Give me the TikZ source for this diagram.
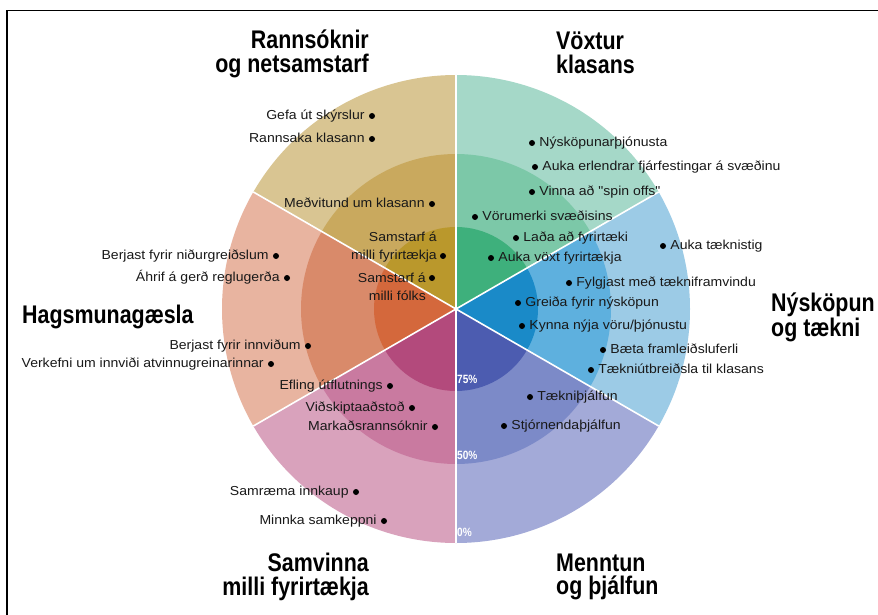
\documentclass[tikz,border=0pt]{standalone}
\usepackage{fontspec}
\newfontfamily\lblfamily{Liberation Sans}[FakeStretch=1.08]
\newfontfamily\ttlfamily{Liberation Sans}[FakeStretch=0.84]
\usetikzlibrary{positioning}
\definecolor{vA}{HTML}{A5D8C8}\definecolor{vB}{HTML}{7CC8A8}\definecolor{vC}{HTML}{3EB07C}
\definecolor{rA}{HTML}{D9C592}\definecolor{rB}{HTML}{C9A95E}\definecolor{rC}{HTML}{BA982C}
\definecolor{hA}{HTML}{E8B4A0}\definecolor{hB}{HTML}{D98A6A}\definecolor{hC}{HTML}{D4683C}
\definecolor{sA}{HTML}{D9A2BC}\definecolor{sB}{HTML}{C97AA0}\definecolor{sC}{HTML}{B34A7C}
\definecolor{mA}{HTML}{A3AAD8}\definecolor{mB}{HTML}{7C8AC8}\definecolor{mC}{HTML}{4C5CB0}
\definecolor{nA}{HTML}{9CCBE6}\definecolor{nB}{HTML}{5EB0DE}\definecolor{nC}{HTML}{1A8AC8}
\newcommand\SectorFill[5]{%
  \fill[#3] (C) -- ++(#1:234pt) arc[start angle=#1,end angle=#2,radius=234pt] -- cycle;
  \fill[#4] (C) -- ++(#1:155pt) arc[start angle=#1,end angle=#2,radius=155pt] -- cycle;
  \fill[#5] (C) -- ++(#1:82pt) arc[start angle=#1,end angle=#2,radius=82pt] -- cycle;}
\newcommand\LeftItem[4]{%
  \node[dotn] (#1d) at (#2,#3) {};
  \node[lbl, anchor=east] (#1) at ([xshift=-4pt]#1d.west) {#4};}
\newcommand\RightItem[4]{%
  \node[dotn] (#1d) at (#2,#3) {};
  \node[lbl, anchor=west] (#1) at ([xshift=4pt]#1d.east) {#4};}
\begin{document}
\begin{tikzpicture}[x=1pt,y=-1pt,
  dotn/.style={circle, fill=black, inner sep=0pt, minimum size=6pt},
  lbl/.style={font=\lblfamily\fontsize{13}{18.5}\selectfont, text=black!90, inner sep=0pt, text height=9pt, text depth=2.5pt},
  lbl2/.style={font=\lblfamily\fontsize{13}{18.5}\selectfont, text=black!90, inner sep=0pt, align=right},
  ttl/.style={font=\ttlfamily\bfseries\fontsize{25.5}{23.5}\selectfont, text=black, inner sep=0pt},
  pct/.style={font=\ttlfamily\bfseries\fontsize{12}{14}\selectfont, text=white, inner sep=0pt, anchor=west},
  divider/.style={white, line width=1.6pt},
  frame/.style={black, line width=1.8pt}]
\fill[white] (0,0) rectangle (878,615);
\useasboundingbox (0,0) rectangle (878,615);
% frame
\coordinate (F1) at (878,10.5);
\coordinate (F2) at (7,10.5);
\coordinate (F3) at (7,615);
\draw[frame] (F1) -- (F2) -- (F3);
% wheel
\coordinate (C) at (456,309);
\SectorFill{30}{90}{vA}{vB}{vC}
\SectorFill{90}{150}{rA}{rB}{rC}
\SectorFill{150}{210}{hA}{hB}{hC}
\SectorFill{210}{270}{sA}{sB}{sC}
\SectorFill{270}{330}{mA}{mB}{mC}
\SectorFill{-30}{30}{nA}{nB}{nC}
\foreach \a in {30,90,150,210,270,330}{\draw[divider] (C) -- ++(\a:234pt);}
% percentages
\node[pct] (p75) at (457,379) {75\%};
\node[pct] (p50) at (457,455) {50\%};
\node[pct] (p0) at (457,532) {0\%};
% titles
\node[ttl, align=right, anchor=east] (tR) at (369,54) {Rannsóknir\\og netsamstarf};
\node[ttl, align=left, anchor=west] (tV) at (556,53) {Vöxtur\\klasans};
\node[ttl, align=left, anchor=west] (tN) at (771,317) {Nýsköpun\\og tækni};
\node[ttl, anchor=base west] (tH) at (22,323) {Hagsmunagæsla};
\node[ttl, align=right, anchor=east] (tS) at (369,577) {Samvinna\\milli fyrirtækja};
\node[ttl, align=left, anchor=west] (tM) at (556,577) {Menntun\\og þjálfun};
% Rannsóknir
\LeftItem{r1}{372}{116}{Gefa út skýrslur}
\LeftItem{r2}{372}{139}{Rannsaka klasann}
\LeftItem{r3}{432}{204}{Meðvitund um klasann}
\node[dotn] (r4d) at (443,256) {};
\node[lbl2, anchor=east] (r4) at (437,247) {Samstarf á\\milli fyrirtækja};
\node[dotn] (r5d) at (432,278) {};
\node[lbl2, anchor=east] (r5) at (426,287) {Samstarf á\\milli fólks};
% Hagsmunagæsla
\LeftItem{h1}{276}{256}{Berjast fyrir niðurgreiðslum}
\LeftItem{h2}{287}{278}{Áhrif á gerð reglugerða}
\LeftItem{h3}{308}{346}{Berjast fyrir innviðum}
\LeftItem{h4}{271}{364}{Verkefni um innviði atvinnugreinarinnar}
\LeftItem{h5}{390}{386}{Efling útflutnings}
% Samvinna
\LeftItem{s1}{412}{408}{Viðskiptaaðstoð}
\LeftItem{s2}{435}{427}{Markaðsrannsóknir}
\LeftItem{s3}{356}{492}{Samræma innkaup}
\LeftItem{s4}{384}{521}{Minnka samkeppni}
% Menntun
\RightItem{m1}{530}{397}{Tækniþjálfun}
\RightItem{m2}{504}{426}{Stjórnendaþjálfun}
% Nýsköpun
\RightItem{n1}{663}{246}{Auka tæknistig}
\RightItem{n2}{569}{283}{Fylgjast með tækniframvindu}
\RightItem{n3}{518}{303}{Greiða fyrir nýsköpun}
\RightItem{n4}{522}{326}{Kynna nýja vöru/þjónustu}
\RightItem{n5}{603}{350}{Bæta framleiðsluferli}
\RightItem{n6}{591}{370}{Tækniútbreiðsla til klasans}
% Vöxtur
\RightItem{v1}{532}{143}{Nýsköpunarþjónusta}
\RightItem{v2}{535}{167}{Auka erlendrar fjárfestingar á svæðinu}
\RightItem{v3}{532}{192}{Vinna að "spin offs"}
\RightItem{v4}{475}{217}{Vörumerki svæðisins}
\RightItem{v5}{516}{238}{Laða að fyrirtæki}
\RightItem{v6}{491}{258}{Auka vöxt fyrirtækja}
\end{tikzpicture}
\end{document}
